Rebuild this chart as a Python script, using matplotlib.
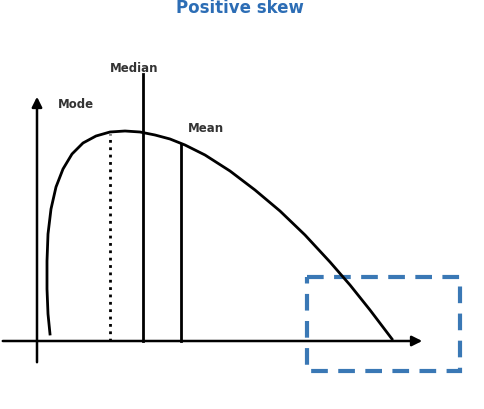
import numpy as np
import matplotlib.pyplot as plt
from matplotlib.patches import Rectangle

# curve outline (pixel coords, y downwards)
curve_x = [50, 48, 47, 47, 48, 51, 56, 63, 72, 83, 96, 110, 125, 140, 155, 170, 185, 205, 230, 255, 280, 305, 330, 350, 370, 392]
curve_y = [335, 315, 290, 262, 235, 210, 188, 170, 155, 144, 137, 133, 132, 133, 136, 140, 146, 156, 172, 191, 212, 236, 263, 286, 311, 340]

markers = ["Mode", "Median", "Mean"]
marker_x = [110, 143, 181]
marker_top = [135, 75, 145]
label_pos = [(58, 104), (110, 68), (188, 128)]

fig = plt.figure(figsize=(4.84, 4.10), dpi=100)
ax = fig.add_axes([0, 0, 1, 1])
ax.set_xlim(0, 484)
ax.set_ylim(410, 0)
ax.axis("off")

ax.plot(curve_x, curve_y, color="black", lw=2)

# axes with arrows
ax.annotate("", xy=(425, 342), xytext=(0, 342),
            arrowprops=dict(arrowstyle="-|>", color="black", lw=1.8, mutation_scale=15))
ax.annotate("", xy=(37, 95), xytext=(37, 366),
            arrowprops=dict(arrowstyle="-|>", color="black", lw=1.8, mutation_scale=15))

for name, x, top, (lx, ly) in zip(markers, marker_x, marker_top, label_pos):
    ls = ":" if name == "Mode" else "-"
    ax.plot([x, x], [342, top], color="black", lw=2, ls=ls)
    ax.text(lx, ly, name, fontsize=8.5, fontweight="bold", color="#333333", va="center")

ax.add_patch(Rectangle((307, 278), 153, 94, fill=False, ec="#3a78b5", lw=3, ls=(0, (4, 2.5))))

ax.text(240, 8, "Positive skew", fontsize=12, fontweight="bold", color="#2c6db5", ha="center", va="center")

plt.savefig("out.png")
plt.close()
